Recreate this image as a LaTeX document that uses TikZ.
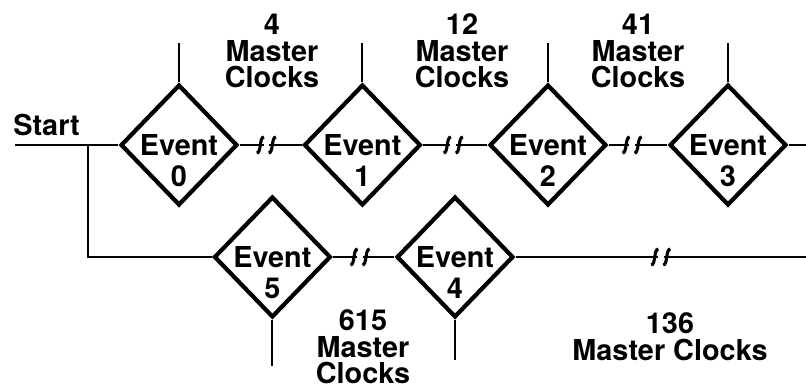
\documentclass[tikz,border=0pt]{standalone}
\usepackage{fontspec}
\setmainfont{TeX Gyre Heros}
\usetikzlibrary{shapes.geometric}

\begin{document}
\begin{tikzpicture}[
  font=\bfseries\fontsize{20.5}{19}\selectfont,
  evt/.style={diamond, draw, line width=3pt, inner sep=0pt,
              minimum width=2.92cm, minimum height=3.02cm,
              label={[evnum]center:#1}},
  evnum/.style={yshift=-22pt, inner sep=0pt},
  lbl/.style={align=center, inner sep=0pt},
  conn/.style={line width=1.4pt},
  brkline/.style={line width=2.2pt},
  brkmark/.pic={
    \fill[white] (-0.07,-0.06) rectangle (0.07,0.06);
    \draw[brkline] (-0.24,-0.2) .. controls (-0.12,-0.2) and (-0.18,0.2) .. (-0.06,0.2);
    \draw[brkline] (0.06,-0.2) .. controls (0.18,-0.2) and (0.12,0.2) .. (0.24,0.2);
  }
]
\useasboundingbox (0,0) rectangle (20.15,9.775);
\node[evt=0] (e0) at (4.475,6.15) {Event};
\node[evt=1] (e1) at (9.06,6.15) {Event};
\node[evt=2] (e2) at (13.7,6.15) {Event};
\node[evt=3] (e3) at (18.2,6.15) {Event};
\node[evt=5] (e5) at (6.81,3.35) {Event};
\node[evt=4] (e4) at (11.375,3.35) {Event};
\node[lbl, anchor=west] (start) at (0.325,6.65) {Start};
\node[lbl] (c4)   at (6.8,8.5)    {4\\Master\\Clocks};
\node[lbl] (c12)  at (11.55,8.5)  {12\\Master\\Clocks};
\node[lbl] (c41)  at (15.95,8.5)  {41\\Master\\Clocks};
\node[lbl] (c615) at (9.075,1.1)  {615\\Master\\Clocks};
\node[lbl] (c136) at (16.75,1.35) {136\\Master Clocks};
\coordinate (lft)  at (0.375,6.15);
\coordinate (jn)   at (2.2,6.15);
\coordinate (rgt)  at (20.15,6.15);
\coordinate (rgtb) at (20.15,3.35);
\coordinate (topy) at (0,8.7);
% main line and branch
\draw[conn] (lft) -- (e0);
\draw[conn] (jn) |- (e5);
\draw[conn] (e0) -- coordinate[pos=0.43] (b01) (e1);
\draw[conn] (e1) -- coordinate[pos=0.47] (b12) (e2);
\draw[conn] (e2) -- coordinate[pos=0.4] (b23) (e3);
\draw[conn] (e3) -- (rgt);
\draw[conn] (e5) -- coordinate[pos=0.44] (b54) (e4);
\draw[conn] (e4) -- coordinate[pos=0.5] (b4r) (rgtb);
% stems
\draw[conn] (e0.north) -- (e0.north |- topy);
\draw[conn] (e1.north) -- (e1.north |- topy);
\draw[conn] (e2.north) -- (e2.north |- topy);
\draw[conn] (e3.north) -- (e3.north |- topy);
\draw[conn] (e5.south) -- ++(0,-1.15);
\draw[conn] (e4.south) -- ++(0,-1.0);
% breaks
\pic at (b01) {brkmark};
\pic at (b12) {brkmark};
\pic at (b23) {brkmark};
\pic at (b54) {brkmark};
\pic at (b4r) {brkmark};
\end{tikzpicture}
\end{document}
